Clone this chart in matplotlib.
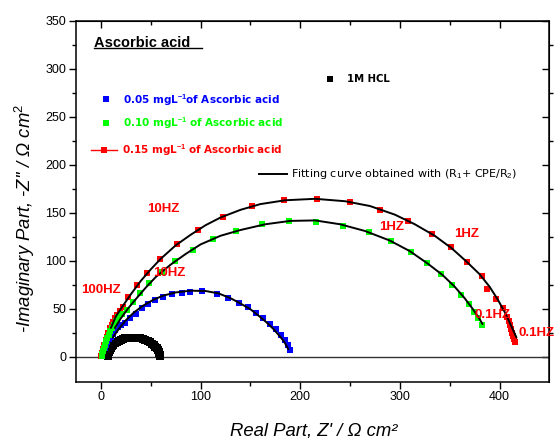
import matplotlib.pyplot as plt
from matplotlib.lines import Line2D

plt.rcParams['font.family'] = ['Liberation Sans', 'DejaVu Sans']
plt.rcParams['mathtext.fontset'] = 'custom'
plt.rcParams['mathtext.rm'] = 'Liberation Sans'
plt.rcParams['mathtext.it'] = 'Liberation Sans:italic'
plt.rcParams['mathtext.bf'] = 'Liberation Sans:bold'

# ---------------- data ----------------
hcl_x = [7, 7.5, 8, 9, 10, 11, 12.5, 14, 16, 18, 20, 22, 24.5, 27, 29.5, 32, 34.5,
         37, 39.5, 42, 44.5, 47, 49, 51, 53, 54.5, 55.8, 57, 57.8, 58.5, 59, 59.3, 59.5]
hcl_y = [1, 3, 5, 7, 9, 11, 12.5, 14, 15.5, 16.8, 17.8, 18.6, 19.2, 19.6, 19.9, 20, 20,
         19.8, 19.4, 18.7, 17.8, 16.6, 15.3, 13.8, 12, 10.3, 8.6, 6.8, 5.2, 3.6, 2.2, 1, 0.3]

c005_x = [0.8, 1.5, 2.5, 3.6, 5, 6.5, 8.2, 10, 12, 14.5, 17, 20.5, 24.3, 29.3, 35, 41, 47,
          54.3, 62.6, 71.6, 81, 89.3, 101, 116, 127.6, 138.6, 147.6, 155.3, 162.6, 169.3,
          175.3, 180.3, 184.3, 187.6, 189.3]
c005_y = [0.5, 3, 6, 9, 12, 15, 18, 21, 24, 27.5, 30.5, 33, 35, 40, 45, 50.4, 55,
          59, 62.5, 65, 66, 67.7, 68, 65.3, 60.8, 56.2, 51.5, 45.8, 40, 34,
          28.5, 22.6, 17.4, 12.2, 7]

c010_x = [0.8, 1.3, 2, 3, 4, 5.3, 6.6, 8, 9.6, 11.2, 13, 15, 17.5, 21, 26, 32, 39.3, 48.6,
          61, 74.3, 92, 112.6, 136, 161.6, 188.6, 216, 243.3, 268.6, 291.6, 311, 327.6,
          341.6, 352.6, 361.6, 369.3, 374.3, 378.6, 382.6]
c010_y = [0.5, 3, 6, 9, 12.5, 16, 19.5, 23, 26.5, 30, 33.5, 37, 41, 45, 49, 56.6, 66, 76.4,
          88, 99.7, 111.5, 122.3, 131.3, 138.2, 141.4, 140.6, 136.5, 130, 120.5, 109, 97.3,
          85.8, 74.7, 64.3, 55, 47, 40, 33]

c015_x = [0.5, 1, 2, 3.3, 4.6, 6, 7.5, 9.3, 11, 12.6, 14.5, 16.6, 19, 22, 27.6, 36, 46.3,
          59.6, 76.6, 97.6, 122.6, 151.6, 183.6, 216.6, 250, 280.3, 308.3, 332, 351.3,
          367.6, 382, 387.6, 396, 403.3, 407.6, 409.5, 411, 412, 413, 414, 414.8, 415.5]
c015_y = [1, 4, 8, 12.3, 17, 21, 25, 29.6, 33, 36.5, 40, 43.4, 47.5, 52, 62.5, 74.4, 87.5,
          101.8, 117.4, 132, 145.2, 157, 163.2, 164, 161.5, 152.8, 141.7, 127.8, 114,
          99, 84, 70.5, 59.8, 50.4, 41.7, 37, 33, 29, 25, 21.5, 18.5, 15.5]

# fitted curves (R1 + CPE/R2)
fit005_x = [12, 18, 25, 33, 42, 52, 62, 75, 90, 105, 118, 130, 140, 150, 158, 166, 173, 179, 184, 188]
fit005_y = [20, 29, 38, 46, 53, 59, 63.5, 67, 68.8, 68.5, 66, 61, 55.5, 49.5, 43, 36, 29, 22, 15.5, 8]
fit010_x = [14, 20, 27, 35, 45, 55, 70, 85, 100, 120, 140, 165, 190, 215, 240, 265, 290, 310,
            328, 343, 355, 365, 373, 379, 383]
fit010_y = [30, 40, 50, 60, 72, 83, 96, 107, 117, 126, 132, 138, 141.5, 142, 138, 131, 121, 110,
            97, 85, 73, 61, 50, 41, 34]
fit015_x = [10, 15, 22, 30, 40, 50, 60, 75, 90, 105, 120, 140, 160, 185, 215, 245, 270, 295,
            315, 335, 352, 367, 380, 390, 398, 405, 410, 414, 417]
fit015_y = [30, 42, 53, 65, 79, 91, 102, 116, 127, 137, 145, 153, 159, 163, 164.5, 162, 157, 148,
            138, 126, 113, 99, 86, 73, 60, 47, 36, 27, 20]

freq_labels = ['10HZ', '100HZ', '10HZ', '1HZ', '1HZ', '0.1HZ', '0.1HZ']
freq_x = [63, 0, 69, 292, 367, 393, 437]
freq_y = [154, 70, 87, 135, 128, 44, 25]

BLUE = '#0000ff'
GREEN = '#00ff00'
RED = '#ff0000'

fig = plt.figure(figsize=(5.56, 4.38), dpi=100)
ax = fig.add_axes([0.1367, 0.1285, 0.8513, 0.8242])

ms = 5.0
ax.axhline(0, color='#333333', lw=1.0, zorder=1)
ax.plot(hcl_x, hcl_y, 's', color='black', ms=6.2, mew=0, zorder=2)
ax.plot(c005_x, c005_y, 's', color=BLUE, ms=ms, mew=0, zorder=3)
ax.plot(c015_x, c015_y, 's', color=RED, ms=ms, mew=0, zorder=4)
ax.plot(c010_x, c010_y, 's', color=GREEN, ms=ms, mew=0, zorder=5)
for fx, fy in [(fit005_x, fit005_y), (fit010_x, fit010_y), (fit015_x, fit015_y)]:
    ax.plot(fx, fy, '-', color='black', lw=1.4, zorder=6, solid_capstyle='round')

for lab, x, y in zip(freq_labels, freq_x, freq_y):
    ax.text(x, y, lab, color=RED, fontsize=9.5, fontweight='bold',
            ha='center', va='center', zorder=7)

ax.set_xlim(-25, 450)
ax.set_ylim(-26, 350)
ax.set_xticks([0, 100, 200, 300, 400])
ax.set_xticks([50, 150, 250, 350], minor=True)
ax.set_yticks(range(0, 351, 50))
ax.set_yticks(range(25, 350, 50), minor=True)
ax.tick_params(which='major', length=5, width=1, labelsize=9, pad=2)
ax.tick_params(which='minor', length=3, width=1)
for s in ax.spines.values():
    s.set_linewidth(1.1)

top = ax.secondary_xaxis('top')
top.set_xticks([0, 100, 200, 300, 400])
top.set_xticks([50, 150, 250, 350], minor=True)
top.tick_params(which='both', direction='in', labeltop=False, width=1)
top.tick_params(which='major', length=5)
top.tick_params(which='minor', length=3)
right = ax.secondary_yaxis('right')
right.set_yticks(range(0, 351, 50))
right.set_yticks(range(25, 350, 50), minor=True)
right.tick_params(which='major', direction='in', length=5, width=1, labelright=False)
right.tick_params(which='minor', direction='out', length=3, width=1)

ax.set_xlabel("Real Part, Z' / Ω cm²", fontsize=13.3, style='italic')
ax.set_ylabel("-Imaginary Part, -Z'' / Ω cm$^{2}$", fontsize=13.3, style='italic')
ax.xaxis.set_label_coords(0.503, -0.112)
ax.yaxis.set_label_coords(-0.082, 0.453)

# title-like label with underline
T = ax.transAxes
ax.text(0.038, 0.939, 'Ascorbic acid', transform=T, fontsize=10.5, fontweight='bold',
        ha='left', va='center')
ax.add_line(Line2D([0.038, 0.266], [0.9235, 0.9235], transform=T, color='black', lw=1.0))

# legend entries
leg_font = ['DejaVu Sans']
ax.add_line(Line2D([0.537], [0.838], transform=T, marker='s', color='black', ms=5, mew=0))
ax.text(0.5726, 0.838, '1M HCL', transform=T, fontsize=7.3, fontweight='bold', va='center',
        family=leg_font)

ax.add_line(Line2D([0.0634], [0.782], transform=T, marker='s', color=BLUE, ms=4.5, mew=0))
ax.text(0.0999, 0.781, '0.05 mgL$^{\\mathbf{-1}}$of Ascorbic acid', transform=T, color=BLUE,
        fontsize=7.5, fontweight='bold', va='center', family=leg_font)
ax.add_line(Line2D([0.0628], [0.717], transform=T, marker='s', color=GREEN, ms=4.5, mew=0))
ax.text(0.0993, 0.716, '0.10 mgL$^{\\mathbf{-1}}$ of Ascorbic acid', transform=T, color=GREEN,
        fontsize=7.5, fontweight='bold', va='center', family=leg_font)
ax.add_line(Line2D([0.031, 0.086], [0.642, 0.642], transform=T, color=RED, lw=1.0))
ax.add_line(Line2D([0.059], [0.642], transform=T, marker='s', color=RED, ms=4.5, mew=0))
ax.text(0.0966, 0.642, '0.15 mgL$^{\\mathbf{-1}}$ of Ascorbic acid', transform=T, color=RED,
        fontsize=7.5, fontweight='bold', va='center', family=leg_font)
ax.add_line(Line2D([0.387, 0.446], [0.5745, 0.5745], transform=T, color='black', lw=1.4))
ax.text(0.4543, 0.575, 'Fitting curve obtained with (R$_1$+ CPE/R$_2$)', transform=T,
        fontsize=8, va='center', family=leg_font)

fig.savefig('out.png', dpi=100)
